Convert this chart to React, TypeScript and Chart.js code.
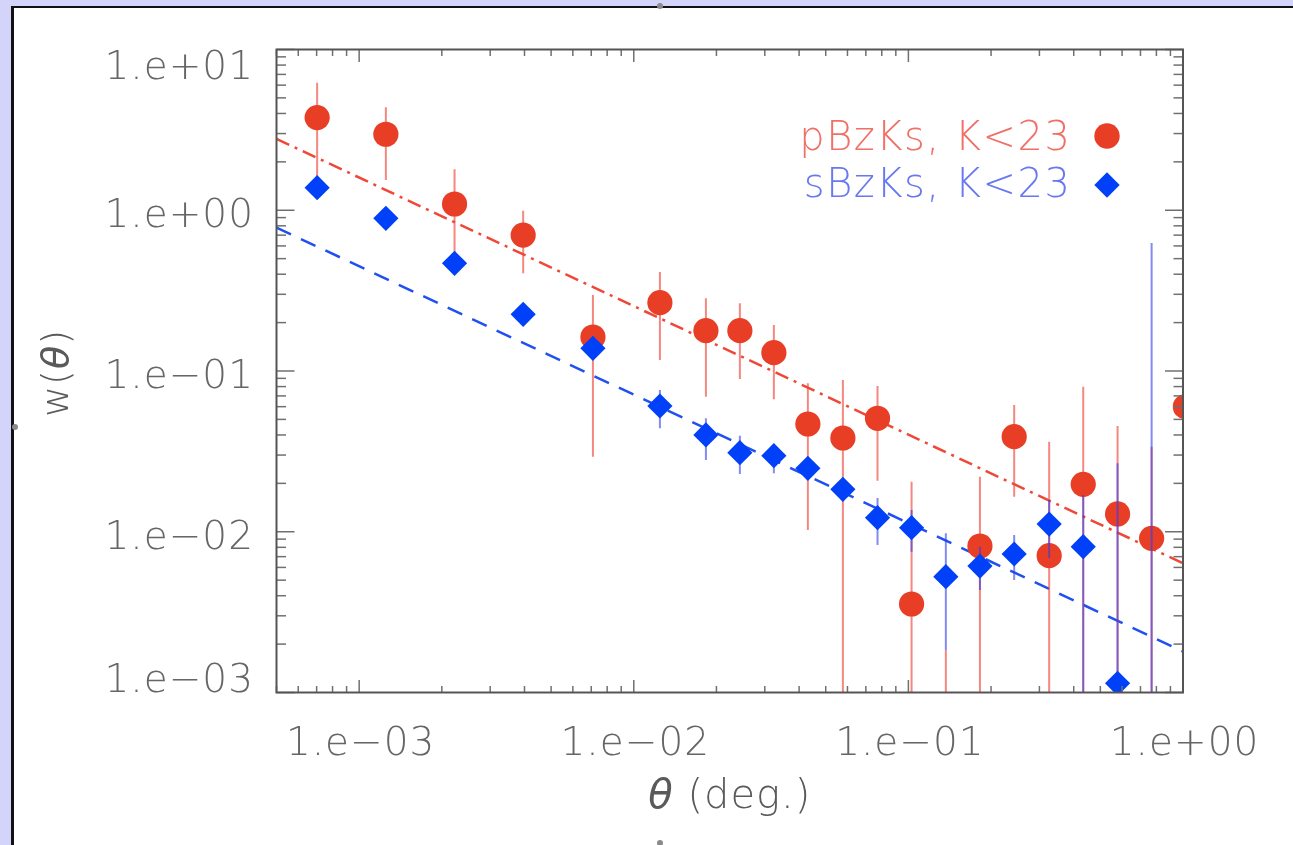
import React, { useEffect, useRef } from "react";
import { Chart, registerables } from "chart.js";

Chart.register(...registerables);

// ---------------- data ----------------
const thetaRed = [7.03e-4, 1.251e-3, 2.225e-3, 3.956e-3, 7.1e-3, 1.245e-2, 1.831e-2, 2.434e-2, 3.237e-2, 4.305e-2, 5.774e-2, 7.72e-2, 0.1027, 0.1369, 0.1822, 0.2428, 0.3256, 0.4332, 0.5778, 0.7686, 1.02];
const wRed = [3.77, 2.97, 1.094, 0.701, 0.1628, 0.266, 0.1781, 0.1781, 0.13, 0.04682, 0.03831, 0.0508, 0.003552, 0.0003, 0.00815, 0.03903, 0.0071, 0.01973, 0.0129, 0.0091, 0.05996];
const wRedHi = [6.22, 4.37, 1.797, 0.994, 0.2971, 0.413, 0.2834, 0.2638, 0.1932, 0.0838, 0.0879, 0.0807, 0.02048, 0.00184, 0.022, 0.0614, 0.03633, 0.0798, 0.04548, 0.0338, null];
const wRedLo = [1.59, 1.54, 0.413, 0.405, 0.0293, 0.117, 0.0692, 0.0892, 0.0667, 0.01025, 0, 0.02078, 0, 0, 0, 0.01652, 0, 0, 0, 0, null];

const thetaBlue = [7.03e-4, 1.251e-3, 2.225e-3, 3.956e-3, 7.1e-3, 1.245e-2, 1.831e-2, 2.434e-2, 3.237e-2, 4.305e-2, 5.774e-2, 7.72e-2, 0.1027, 0.1369, 0.1822, 0.2428, 0.3256, 0.4332, 0.5778, 0.7686];
const wBlue = [1.381, 0.891, 0.4677, 0.2253, 0.1384, 0.06058, 0.04, 0.03102, 0.02972, 0.02481, 0.01837, 0.01223, 0.0106, 0.005253, 0.00612, 0.00727, 0.01117, 0.00807, 0.00114, 0.0005];
const wBlueHi = [null, null, null, null, null, 0.0762, 0.0508, 0.03959, 0.03465, 0.0293, 0.021, 0.0162, 0.01365, 0.00978, 0.00807, 0.00954, 0.01576, 0.01693, 0.0267, 0.6254];
const wBlueLo = [null, null, null, null, null, 0.044, 0.02794, 0.02287, 0.0231, 0.021, 0.01576, 0.00827, 0.00751, 0.001838, 0.00434, 0.00501, 0.00687, 0, 0, 0];

const fitTheta = [5e-4, 1.0];
const fitRed = [2.78, 0.00637];
const fitBlue = [0.78, 0.0018];

const xTickValues = [1e-3, 1e-2, 1e-1, 1];
const xTickLabels = ["1.e\u221203", "1.e\u221202", "1.e\u221201", "1.e+00"];
const yTickValues = [1e1, 1e0, 1e-1, 1e-2, 1e-3];
const yTickLabels = ["1.e+01", "1.e+00", "1.e\u221201", "1.e\u221202", "1.e\u221203"];
const legendLabels = ["pBzKs, K<23", "sBzKs, K<23"];
const xTitleSymbol = "\u03b8";
const xTitleRest = " (deg.)";
const yTitleParts = ["w(", "\u03b8", ")"];

// ---------------- styles ----------------
const FONT = "'DejaVu Sans', 'Liberation Sans', sans-serif";
const RED = "#E83E26";
const BLUE = "#0040F8";
const RED_TEXT = "#F07068";
const BLUE_TEXT = "#6878F0";
const AXIS = "#555555";
const LABEL = "#666666";

const errorBarPlugin = {
  id: "errorBars",
  beforeDatasetDraw(chart: any, args: any) {
    const ds = chart.data.datasets[args.index] as any;
    if (!ds.errHi) return;
    const { ctx, chartArea: a } = chart;
    const xs = chart.scales.x;
    const ys = chart.scales.y;
    ctx.save();
    ctx.beginPath();
    ctx.rect(a.left, a.top, a.right - a.left, a.bottom - a.top);
    ctx.clip();
    ctx.strokeStyle = ds.errColor;
    ctx.lineWidth = 2;
    ds.data.forEach((p: any, i: number) => {
      const hi = ds.errHi[i];
      const lo = ds.errLo[i];
      if (hi == null || lo == null) return;
      const px = xs.getPixelForValue(p.x);
      const y1 = ys.getPixelForValue(hi);
      const y2 = lo > 0 ? ys.getPixelForValue(lo) : a.bottom + 5;
      ctx.beginPath();
      ctx.moveTo(px, y1);
      ctx.lineTo(px, y2);
      ctx.stroke();
    });
    ctx.restore();
  },
};

const axesPlugin = {
  id: "idlAxes",
  afterDraw(chart: any) {
    const { ctx, chartArea: a } = chart;
    const xs = chart.scales.x;
    const ys = chart.scales.y;
    const seg = (x1: number, y1: number, x2: number, y2: number) => {
      ctx.beginPath();
      ctx.moveTo(x1, y1);
      ctx.lineTo(x2, y2);
      ctx.stroke();
    };
    ctx.save();
    ctx.strokeStyle = "#707070";
    ctx.lineWidth = 1.5;
    for (let d = -4; d <= 1; d++) {
      for (let m = 1; m <= 9; m++) {
        const v = m * Math.pow(10, d);
        if (v >= xs.min * 0.999 && v <= xs.max * 1.001) {
          const px = xs.getPixelForValue(v);
          const len = m === 1 ? 12.5 : 6.5;
          seg(px, a.bottom, px, a.bottom - len);
          seg(px, a.top, px, a.top + len);
        }
        if (v >= ys.min * 0.999 && v <= ys.max * 1.001) {
          const py = ys.getPixelForValue(v);
          const len = m === 1 ? 18 : 9.5;
          seg(a.left, py, a.left + len, py);
          seg(a.right, py, a.right - len, py);
        }
      }
    }
    ctx.strokeStyle = AXIS;
    ctx.lineWidth = 2;
    ctx.strokeRect(a.left, a.top, a.right - a.left, a.bottom - a.top);

    // tick labels
    const fs = 39;
    const cap = 0.729 * fs;
    ctx.fillStyle = LABEL;
    ctx.font = `200 ${fs}px ${FONT}`;
    (ctx as any).letterSpacing = "1px";
    ctx.textBaseline = "alphabetic";
    ctx.textAlign = "right";
    yTickValues.forEach((v, i) => {
      const py = ys.getPixelForValue(v);
      const c = Math.min(Math.max(py + 3, a.top + 15), a.bottom - 14.5);
      ctx.fillText(yTickLabels[i], a.left - 22.5, c + cap / 2);
    });
    ctx.textAlign = "center";
    xTickValues.forEach((v, i) => {
      const px = xs.getPixelForValue(v);
      ctx.fillText(xTickLabels[i], px + 1.5, 741 + cap / 2);
    });

    // x title
    const tfs = 40;
    (ctx as any).letterSpacing = "1px";
    ctx.fillStyle = "#5a5a5a";
    ctx.textAlign = "left";
    ctx.font = `italic ${tfs}px ${FONT}`;
    const w1 = ctx.measureText(xTitleSymbol).width;
    ctx.font = `200 ${tfs}px ${FONT}`;
    const w2 = ctx.measureText(xTitleRest).width;
    const cx = (a.left + a.right) / 2;
    const x0 = cx - (w1 + w2) / 2;
    ctx.font = `italic ${tfs}px ${FONT}`;
    ctx.fillText(xTitleSymbol, x0, 808);
    ctx.font = `200 ${tfs}px ${FONT}`;
    ctx.fillText(xTitleRest, x0 + w1, 808);

    // y title (rotated)
    ctx.save();
    ctx.translate(68, (a.top + a.bottom) / 2 + 2);
    ctx.rotate(-Math.PI / 2);
    const fonts = [`200 38px ${FONT}`, `italic 38px ${FONT}`, `200 38px ${FONT}`];
    const widths = yTitleParts.map((t, i) => {
      ctx.font = fonts[i];
      return ctx.measureText(t).width;
    });
    let u = -widths.reduce((s, w) => s + w, 0) / 2;
    yTitleParts.forEach((t, i) => {
      ctx.font = fonts[i];
      ctx.fillText(t, u, 0);
      u += widths[i];
    });
    ctx.restore();

    // legend
    ctx.font = `200 40px ${FONT}`;
    (ctx as any).letterSpacing = "1.5px";
    ctx.textAlign = "right";
    ctx.fillStyle = RED_TEXT;
    ctx.fillText(legendLabels[0], 1071.5, 150);
    ctx.fillStyle = BLUE_TEXT;
    ctx.fillText(legendLabels[1], 1071.5, 197);
    (ctx as any).letterSpacing = "0px";
    ctx.fillStyle = RED;
    ctx.beginPath();
    ctx.arc(1107, 136, 12.7, 0, Math.PI * 2);
    ctx.fill();
    ctx.fillStyle = BLUE;
    ctx.beginPath();
    ctx.moveTo(1107, 185 - 12.7);
    ctx.lineTo(1107 + 12.7, 185);
    ctx.lineTo(1107, 185 + 12.7);
    ctx.lineTo(1107 - 12.7, 185);
    ctx.closePath();
    ctx.fill();
    ctx.restore();
  },
};

export default function App() {
  const canvasRef = useRef<HTMLCanvasElement | null>(null);

  useEffect(() => {
    if (!canvasRef.current) return;
    const chart = new Chart(canvasRef.current, {
      type: "scatter",
      data: {
        datasets: [
          {
            label: "sBzKs",
            data: thetaBlue.map((x, i) => ({ x, y: wBlue[i] })),
            pointStyle: "rectRot",
            pointRadius: 12.6,
            backgroundColor: BLUE,
            borderWidth: 0,
            order: 0,
            clip: 0,
            errHi: wBlueHi,
            errLo: wBlueLo,
            errColor: "rgba(50,60,235,0.6)",
          } as any,
          {
            label: "pBzKs",
            data: thetaRed.map((x, i) => ({ x, y: wRed[i] })),
            pointStyle: "circle",
            pointRadius: 12.6,
            backgroundColor: RED,
            borderWidth: 0,
            order: 1,
            clip: 0,
            errHi: wRedHi,
            errLo: wRedLo,
            errColor: "rgba(238,70,60,0.65)",
          } as any,
          {
            label: "fit sBzKs",
            data: fitTheta.map((x, i) => ({ x, y: fitBlue[i] })),
            showLine: true,
            borderColor: "#2050F0",
            borderWidth: 2.5,
            borderDash: [16, 11],
            pointRadius: 0,
            order: 2,
            clip: 0,
          } as any,
          {
            label: "fit pBzKs",
            data: fitTheta.map((x, i) => ({ x, y: fitRed[i] })),
            showLine: true,
            borderColor: "#F04838",
            borderWidth: 2.5,
            borderDash: [14, 6, 3, 6],
            pointRadius: 0,
            order: 3,
            clip: 0,
          } as any,
        ],
      },
      options: {
        animation: false,
        responsive: false,
        devicePixelRatio: 1,
        events: [],
        layout: { padding: { left: 276.5, right: 110, top: 49.5, bottom: 152.5 } },
        plugins: { legend: { display: false }, tooltip: { enabled: false } },
        scales: {
          x: { type: "logarithmic", min: 5e-4, max: 1, display: false },
          y: { type: "logarithmic", min: 1e-3, max: 10, display: false },
        },
      },
      plugins: [errorBarPlugin, axesPlugin],
    });
    return () => chart.destroy();
  }, []);

  const dot = (left: number, top: number) => (
    <div
      style={{
        position: "absolute",
        left,
        top,
        width: 6,
        height: 6,
        borderRadius: 3,
        background: "#8a8a8a",
      }}
    />
  );

  return (
    <div
      style={{
        position: "fixed",
        left: 0,
        top: 0,
        width: 1293,
        height: 845,
        background: "#D4D4FA",
        overflow: "hidden",
      }}
    >
      <div
        style={{
          position: "absolute",
          left: 11,
          top: 6,
          right: 0,
          bottom: -10,
          background: "#ffffff",
          borderLeft: "3px solid #111",
          borderTop: "2.5px solid #111",
        }}
      />
      {dot(12, 424)}
      {dot(657, 3)}
      {dot(657, 840)}
      <canvas
        ref={canvasRef}
        width={1293}
        height={845}
        style={{ position: "absolute", left: 0, top: 0, width: 1293, height: 845 }}
      />
    </div>
  );
}
